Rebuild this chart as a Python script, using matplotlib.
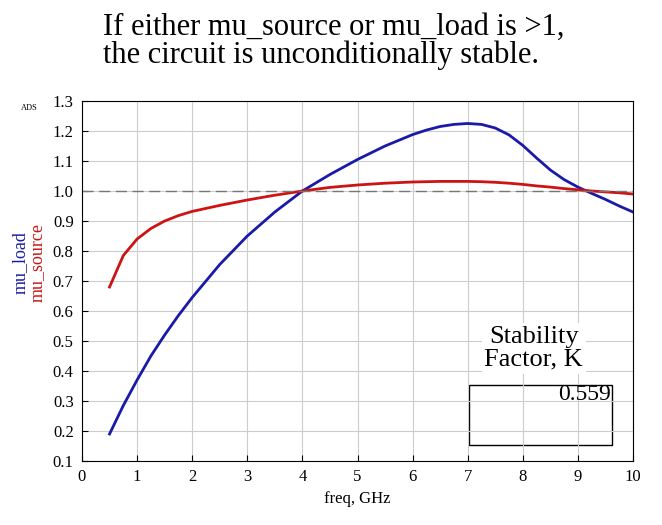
import matplotlib
matplotlib.use("Agg")
import matplotlib.pyplot as plt

freq = [0.5, 0.75, 1.0, 1.25, 1.5, 1.75, 2.0, 2.5, 3.0, 3.5, 4.0, 4.5, 5.0, 5.5, 6.0, 6.25, 6.5, 6.75, 7.0, 7.25, 7.5, 7.75, 8.0, 8.25, 8.5, 8.75, 9.0, 9.25, 9.5, 9.75, 10.0]
mu_load = [0.19, 0.285, 0.37, 0.45, 0.52, 0.585, 0.645, 0.755, 0.85, 0.93, 1.0, 1.055, 1.105, 1.15, 1.188, 1.203, 1.215, 1.222, 1.225, 1.222, 1.21, 1.187, 1.152, 1.11, 1.07, 1.038, 1.013, 0.992, 0.972, 0.95, 0.93]
mu_source = [0.68, 0.785, 0.84, 0.875, 0.9, 0.918, 0.932, 0.952, 0.97, 0.986, 1.0, 1.012, 1.02, 1.026, 1.03, 1.031, 1.032, 1.032, 1.032, 1.031, 1.029, 1.026, 1.022, 1.017, 1.013, 1.008, 1.004, 1.0, 0.997, 0.994, 0.99]
K_value = "0.559"

plt.rcParams['font.family'] = ['Liberation Serif', 'DejaVu Serif']
fig = plt.figure(figsize=(6.62, 5.25), dpi=100)
ax = fig.add_axes([82/662, 1-461/525, (633-82)/662, (461-101)/525])
ax.plot(freq, mu_load, color='#1a1aa8', lw=2)
ax.plot(freq, mu_source, color='#cc1414', lw=2)
ax.axhline(1.0, color='#777777', ls=(0, (8, 4)), lw=1)
ax.set_xlim(0, 10); ax.set_ylim(0.1, 1.3)
ax.set_xticks(range(0, 11))
ax.set_yticks([round(0.1 + 0.1*i, 1) for i in range(13)])
ax.set_yticklabels([f"{0.1+0.1*i:.1f}" for i in range(13)])
ax.grid(color='#cccccc', lw=0.8)
ax.tick_params(direction='in', labelsize=12, length=4, pad=6)
ax.set_xlabel('freq, GHz', fontsize=12)
fig.text(0.018, 0.5, 'mu_load', color='#1a1aa8', rotation=90, fontsize=13, va='center')
fig.text(0.043, 0.5, 'mu_source', color='#cc1414', rotation=90, fontsize=13, va='center')
fig.text(0.045, 1-110/525, 'ADS', fontsize=6, ha='center')
fig.text(0.155, 0.975, 'If either mu_source or mu_load is >1,\nthe circuit is unconditionally stable.',
         fontsize=22, va='top', ha='left', linespacing=0.95)
ax.text(8.2, 0.475, 'Stability\nFactor, K', fontsize=19, ha='center', va='center',
        linespacing=1.05, bbox=dict(facecolor='white', edgecolor='none', pad=2))
ax.add_patch(plt.Rectangle((7.02, 0.155), 2.6, 0.2, fill=True, facecolor='white', edgecolor='black', lw=1))
ax.text(9.6, 0.32, K_value, fontsize=17, ha='right', va='center')
fig.savefig('out.png', dpi=100)
